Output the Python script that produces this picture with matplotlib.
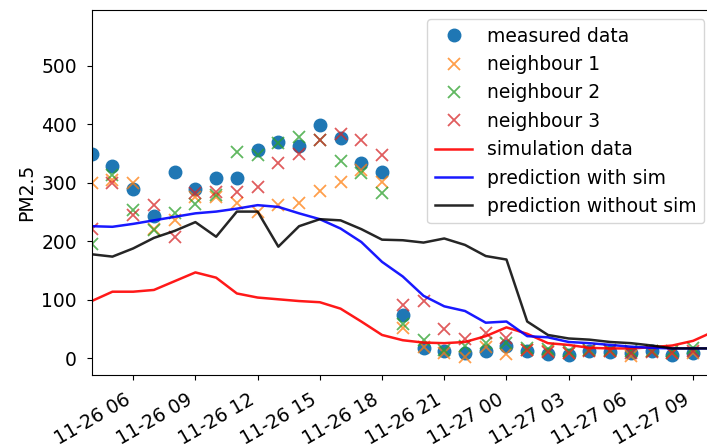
import numpy as np
import pandas as pd
import matplotlib
matplotlib.use('Agg')
import matplotlib.pyplot as plt
import matplotlib.dates as mdates

plt.rcParams['font.size'] = 13.5

# hourly timestamps, 11-26 04:00 .. 11-27 10:00
times = pd.date_range('2019-11-26 04:00', '2019-11-27 10:00', freq='h')
obs_times = times[:30]  # station readings stop at 09:00

measured = [350, 329, 289, 243, 319, 289, 309, 309, 357, 370, 363, 399, 376, 334, 319,
            75, 18, 12, 9, 12, 21, 12, 8, 5, 12, 11, 9, 12, 5, 9]
neighbour1 = [300, 305, 300, 222, 236, 276, 276, 265, 251, 262, 265, 287, 302, 322, 302,
              52, 20, 9, 3, 20, 7, 14, 12, 10, 14, 12, 4, 12, 10, 10]
neighbour2 = [196, 313, 253, 220, 249, 264, 280, 353, 347, 368, 378, 373, 338, 317, 283,
              58, 31, 15, 22, 27, 26, 17, 16, 13, 15, 14, 13, 12, 12, 18]
neighbour3 = [222, 300, 245, 262, 207, 282, 285, 285, 293, 334, 350, 373, 383, 373, 348,
              92, 98, 51, 33, 43, 34, 14, 11, 10, 13, 12, 10, 11, 10, 12]

simulation = [98, 114, 114, 117, 132, 147, 138, 111, 104, 101, 98, 96, 85, 63, 40,
              31, 27, 26, 28, 38, 53, 42, 26, 23, 18, 17, 17, 19, 22, 30, 46]
pred_sim = [226, 225, 230, 236, 242, 248, 251, 256, 262, 259, 248, 238, 222, 199, 165,
            140, 107, 89, 81, 61, 63, 38, 36, 28, 26, 23, 20, 18, 17, 17, 17]
pred_nosim = [178, 174, 188, 206, 218, 233, 208, 251, 251, 191, 226, 238, 236, 221, 203,
              202, 198, 205, 194, 175, 169, 63, 40, 34, 32, 28, 26, 22, 17, 17, 17]

fig = plt.figure(figsize=(7.07, 4.47), dpi=100)
ax = fig.add_axes([0.1297, 0.161, 0.880, 0.817])

ax.plot(obs_times, measured, 'o', color='C0', markersize=9, label='measured data')
ax.plot(obs_times, neighbour1, 'x', color='C1', markersize=8, mew=1.3, alpha=0.75, label='neighbour 1')
ax.plot(obs_times, neighbour2, 'x', color='C2', markersize=8, mew=1.3, alpha=0.75, label='neighbour 2')
ax.plot(obs_times, neighbour3, 'x', color='C3', markersize=8, mew=1.3, alpha=0.75, label='neighbour 3')
ax.plot(times, simulation, color='red', lw=1.8, alpha=0.9, label='simulation data')
ax.plot(times, pred_sim, color='blue', lw=1.8, alpha=0.9, label='prediction with sim')
ax.plot(times, pred_nosim, color='black', lw=1.8, alpha=0.85, label='prediction without sim')

ax.set_xlim(times[0], times[-1])
ax.set_ylim(-28.5, 596)
ax.set_yticks([0, 100, 200, 300, 400, 500])
ax.tick_params(axis='both', pad=7)
ax.xaxis.set_major_locator(mdates.HourLocator(byhour=range(0, 24, 3)))
ax.xaxis.set_major_formatter(mdates.DateFormatter('%m-%d %H'))
for lbl in ax.get_xticklabels():
    lbl.set_rotation(30)
    lbl.set_ha('right')
ax.set_ylabel('PM2.5')
ax.legend(loc='upper right')

fig.savefig('out.png', dpi=100)
